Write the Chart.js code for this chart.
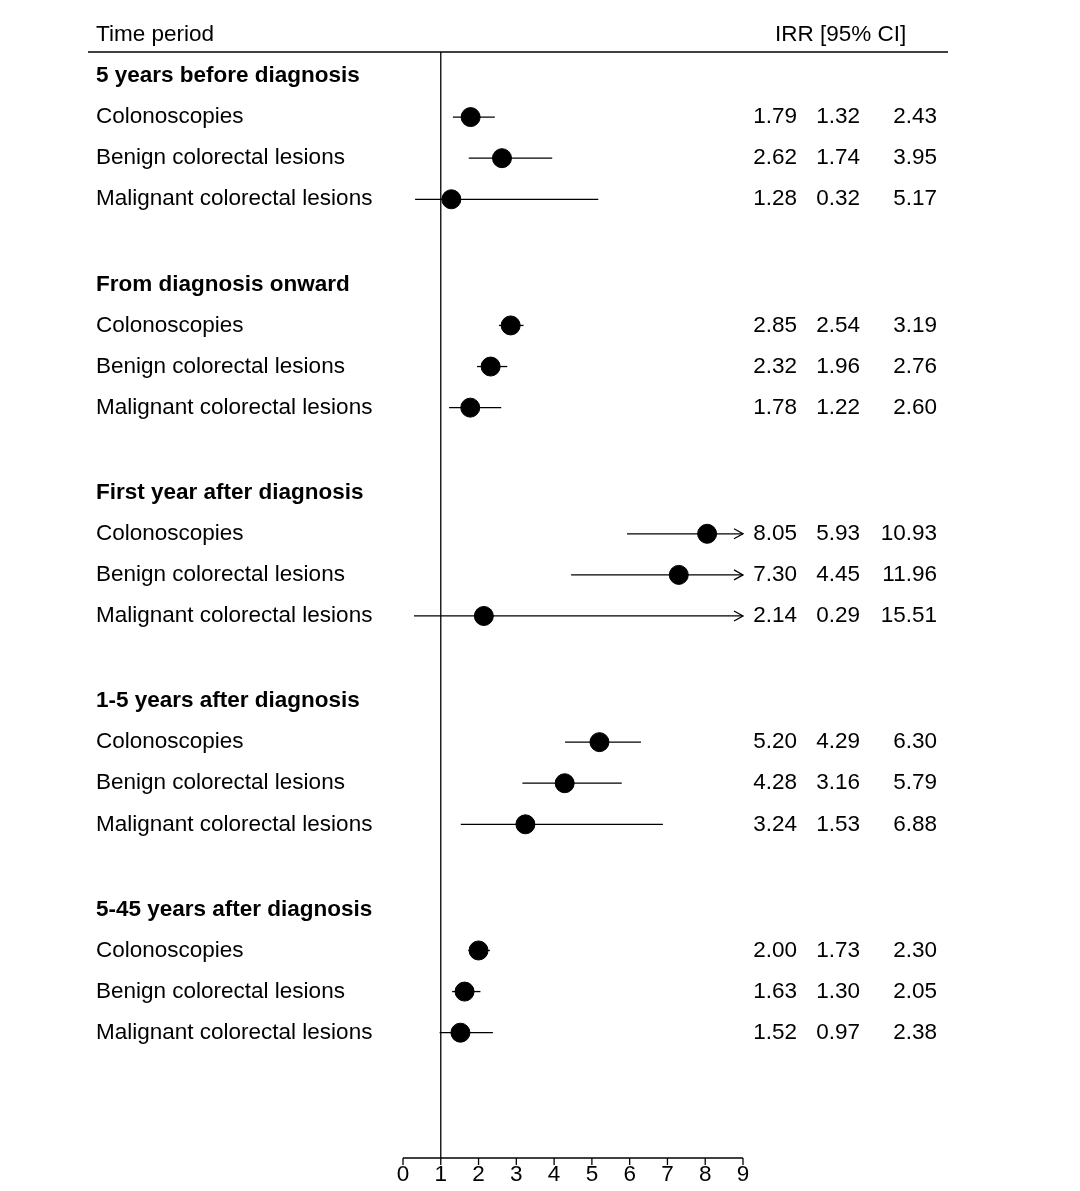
<!DOCTYPE html>
<html><head><meta charset="utf-8">
<script src="https://cdn.jsdelivr.net/npm/chart.js@4"></script>
<style>body{margin:0;background:#fff}#wrap{width:1080px;height:1191px}</style>
</head><body><div id="wrap"><canvas id="c"></canvas></div>
<script>
const groups = ['5 years before diagnosis', 'From diagnosis onward', 'First year after diagnosis', '1-5 years after diagnosis', '5-45 years after diagnosis'];
const outcomes = ['Colonoscopies', 'Benign colorectal lesions', 'Malignant colorectal lesions'];
const irr =   [1.79, 2.62, 1.28, 2.85, 2.32, 1.78, 8.05, 7.30, 2.14, 5.20, 4.28, 3.24, 2.00, 1.63, 1.52];
const lower = [1.32, 1.74, 0.32, 2.54, 1.96, 1.22, 5.93, 4.45, 0.29, 4.29, 3.16, 1.53, 1.73, 1.30, 0.97];
const upper = [2.43, 3.95, 5.17, 3.19, 2.76, 2.60, 10.93, 11.96, 15.51, 6.30, 5.79, 6.88, 2.30, 2.05, 2.38];
const xTicks = [0, 1, 2, 3, 4, 5, 6, 7, 8, 9];
const xMax = 9;

const groupStep = 5.07;
const rowOf = i => Math.floor(i / 3) * groupStep + (i % 3) + 1;
const points = irr.map((v, i) => ({x: v, y: rowOf(i)}));
const font = '22.5px "Liberation Sans", Arial, sans-serif';
const bold = 'bold 22.5px "Liberation Sans", Arial, sans-serif';

const forest = {
  id: 'forest',
  beforeDatasetsDraw(chart) {
    const {ctx, scales: {x, y}, chartArea: a} = chart;
    ctx.save();
    ctx.strokeStyle = '#000'; ctx.fillStyle = '#000'; ctx.lineWidth = 1.3;
    ctx.beginPath(); ctx.moveTo(88, a.top); ctx.lineTo(948, a.top); ctx.stroke();
    const x1 = x.getPixelForValue(1);
    ctx.beginPath(); ctx.moveTo(x1, a.top); ctx.lineTo(x1, a.bottom); ctx.stroke();
    ctx.beginPath(); ctx.moveTo(x.getPixelForValue(0), a.bottom); ctx.lineTo(x.getPixelForValue(xMax), a.bottom); ctx.stroke();
    ctx.font = font; ctx.textAlign = 'center'; ctx.textBaseline = 'top';
    xTicks.forEach(t => {
      const px = x.getPixelForValue(t);
      ctx.beginPath(); ctx.moveTo(px, a.bottom); ctx.lineTo(px, a.bottom + 7); ctx.stroke();
      ctx.fillText(String(t), px, a.bottom + 6);
    });
    irr.forEach((v, i) => {
      const py = y.getPixelForValue(rowOf(i));
      const hi = Math.min(upper[i], xMax);
      const xl = x.getPixelForValue(lower[i]), xh = x.getPixelForValue(hi);
      ctx.beginPath(); ctx.moveTo(xl, py); ctx.lineTo(xh, py); ctx.stroke();
      if (upper[i] > xMax) {
        ctx.beginPath(); ctx.moveTo(xh - 9, py - 5); ctx.lineTo(xh, py); ctx.lineTo(xh - 9, py + 5); ctx.stroke();
      }
    });
    ctx.textBaseline = 'middle'; ctx.textAlign = 'left';
    ctx.fillText('Time period', 96, 35);
    ctx.fillText('IRR [95% CI]', 775, 35);
    groups.forEach((g, gi) => {
      ctx.font = bold; ctx.textAlign = 'left';
      ctx.fillText(g, 96, y.getPixelForValue(gi * groupStep));
      ctx.font = font;
      outcomes.forEach((o, oi) => {
        const i = gi * 3 + oi, py = y.getPixelForValue(rowOf(i));
        ctx.textAlign = 'left'; ctx.fillText(o, 96, py);
        ctx.textAlign = 'right';
        ctx.fillText(irr[i].toFixed(2), 797, py);
        ctx.fillText(lower[i].toFixed(2), 860, py);
        ctx.fillText(upper[i].toFixed(2), 937, py);
      });
    });
    ctx.restore();
  }
};

new Chart(document.getElementById('c'), {
  type: 'scatter',
  data: {datasets: [{data: points, pointRadius: 9.5, pointHoverRadius: 9.5, backgroundColor: '#000', borderColor: '#000'}]},
  options: {
    responsive: true, maintainAspectRatio: false, animation: false,
    layout: {padding: {left: 403, right: 337, top: 52, bottom: 33}},
    plugins: {legend: {display: false}, tooltip: {enabled: false}},
    scales: {
      x: {display: false, min: 0, max: xMax},
      y: {display: false, reverse: true, min: -0.584, max: 26.33}
    }
  },
  plugins: [forest]
});
</script></body></html>
